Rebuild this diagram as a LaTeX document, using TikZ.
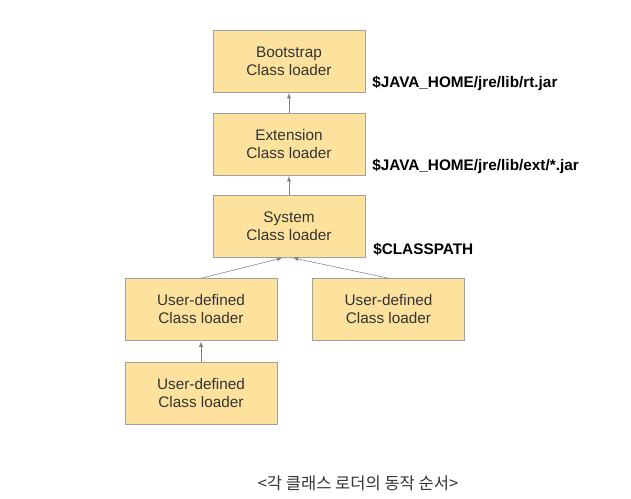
\documentclass[tikz,border=0pt]{standalone}
\usepackage{fontspec}
\setmainfont{Liberation Sans}
\newfontfamily\krfont{Noto Sans CJK KR}
\usetikzlibrary{arrows}

\definecolor{boxfill}{HTML}{FCE29C}
\definecolor{boxline}{HTML}{A0A0A0}
\definecolor{boxtext}{HTML}{333333}
\definecolor{edgegray}{HTML}{808080}

\begin{document}
\begin{tikzpicture}[>=latex, x=0.75pt, y=-0.75pt]
  \tikzstyle{loader} = [draw=boxline, fill=boxfill, rectangle, minimum height=46.5pt, minimum width=114pt, align=center, text=boxtext, font={\fontsize{11.5}{13.5}\selectfont}];
  \tikzstyle{loaderEdge} = [edgegray, thin, ->, shorten >=0.5pt];
  \tikzstyle{pathLabel} = [anchor=west, inner sep=0pt, font={\fontsize{11.5}{13}\selectfont\bfseries}];

  \useasboundingbox (0,0) rectangle (631,499);

  \node[loader] (boot)  at (289,61)    {Bootstrap\\Class loader};
  \node[loader] (ext)   at (289,144)   {Extension\\Class loader};
  \node[loader] (sys)   at (289,226.5) {System\\Class loader};
  \node[loader] (userA) at (201,309.5) {User-defined\\Class loader};
  \node[loader] (userB) at (388.5,309.5) {User-defined\\Class loader};
  \node[loader] (userC) at (201,393)   {User-defined\\Class loader};

  \node[pathLabel] (rtjar)  at (372,83)  {\$JAVA\_HOME/jre/lib/rt.jar};
  \node[pathLabel] (extjar) at (372,166) {\$JAVA\_HOME/jre/lib/ext/*.jar};
  \node[pathLabel] (cpath)  at (373,249) {\$CLASSPATH};

  \node[text=boxtext, font={\krfont\fontsize{12.4}{14}\selectfont}] (caption) at (358,483) {<각 클래스 로더의 동작 순서>};

  \path (ext) edge[loaderEdge] (boot)
        (sys) edge[loaderEdge] (ext)
        (userA.north) edge[loaderEdge] ([xshift=-4.5pt]sys.south)
        (userB.north) edge[loaderEdge] ([xshift=2.5pt]sys.south)
        (userC) edge[loaderEdge] (userA);
\end{tikzpicture}
\end{document}
